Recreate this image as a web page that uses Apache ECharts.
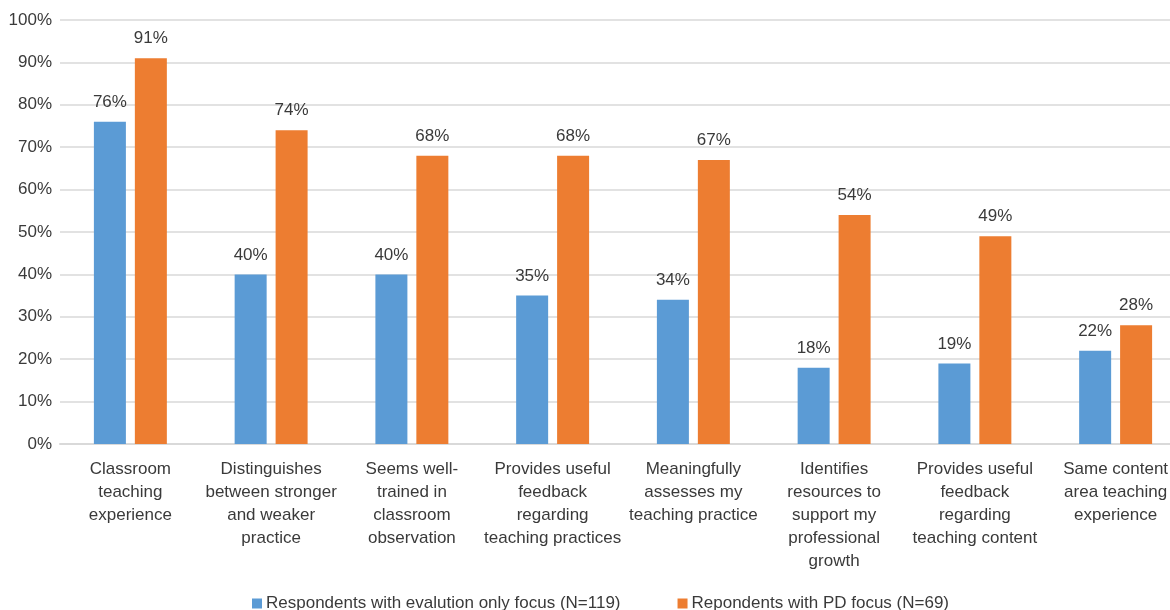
<!DOCTYPE html>
<html><head><meta charset="utf-8">
<script src="https://cdn.jsdelivr.net/npm/echarts@6/dist/echarts.min.js"></script>
<style>html,body{margin:0;padding:0;background:#fff;overflow:hidden;width:1170px;height:610px}#c{width:1186px;height:610px}</style>
</head><body><div id="c"></div>
<script>
const categories = [
  "Classroom\nteaching\nexperience",
  "Distinguishes\nbetween stronger\nand weaker\npractice",
  "Seems well-\ntrained in\nclassroom\nobservation",
  "Provides useful\nfeedback\nregarding\nteaching practices",
  "Meaningfully\nassesses my\nteaching practice",
  "Identifies\nresources to\nsupport my\nprofessional\ngrowth",
  "Provides useful\nfeedback\nregarding\nteaching content",
  "Same content\narea teaching\nexperience"
];
const seriesNames = ["Respondents with evalution only focus (N=119)", "Repondents with PD focus (N=69)"];
const evalOnly = [76, 40, 40, 35, 34, 18, 19, 22];
const pdFocus = [91, 74, 68, 68, 67, 54, 49, 28];
const yTicks = [0, 10, 20, 30, 40, 50, 60, 70, 80, 90, 100];

const font = "'Liberation Sans', Arial, sans-serif";
const txt = '#3a3a3a';
const chart = echarts.init(document.getElementById('c'));
const label = {show: true, position: 'top', distance: 11, color: txt, fontSize: 17, fontFamily: font, formatter: p => p.value + '%'};
chart.setOption({
  animation: false,
  grid: {left: 60, right: 0, top: 20, bottom: 166, containLabel: false},
  legend: {
    top: 590, left: 247, itemWidth: 10, itemHeight: 10, itemGap: 57,
    icon: 'rect',
    textStyle: {color: txt, fontSize: 17, fontFamily: font, padding: [0, 0, 0, -1]},
    data: seriesNames
  },
  xAxis: {
    type: 'category', data: categories,
    axisLine: {lineStyle: {color: '#d9d9d9', width: 2}},
    axisTick: {show: false},
    axisLabel: {interval: 0, color: txt, fontSize: 17, fontFamily: font, lineHeight: 23, margin: 14}
  },
  yAxis: {
    type: 'value', min: yTicks[0], max: yTicks[yTicks.length - 1], interval: 10,
    axisLine: {show: false}, axisTick: {show: false},
    splitLine: {lineStyle: {color: '#d9d9d9', width: 1.5}},
    axisLabel: {color: txt, fontSize: 17, fontFamily: font, margin: 8, formatter: v => v + '%'}
  },
  series: [
    {name: seriesNames[0], type: 'bar', data: evalOnly, itemStyle: {color: '#5B9BD5'}, barWidth: 32, barGap: '28%', label},
    {name: seriesNames[1], type: 'bar', data: pdFocus, itemStyle: {color: '#ED7D31'}, barWidth: 32, label}
  ]
});
</script></body></html>
